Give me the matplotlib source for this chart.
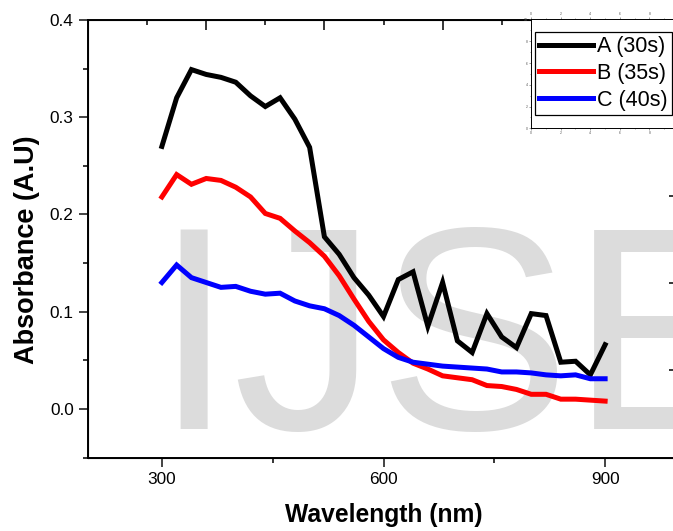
import matplotlib

matplotlib.use("Agg")

import matplotlib.pyplot as plt
from matplotlib.ticker import MultipleLocator

plt.rcParams["font.family"] = ["Liberation Sans", "DejaVu Sans"]

# --- dados ------------------------------------------------------------------
wavelength = [300, 320, 340, 360, 380, 400, 420, 440, 460, 480, 500, 520, 540,
              560, 580, 600, 620, 640, 660, 680, 700, 720, 740, 760, 780, 800,
              820, 840, 860, 880, 900]
abs_a = [0.270, 0.320, 0.349, 0.344, 0.341, 0.336, 0.322, 0.311, 0.320, 0.298,
         0.269, 0.177, 0.159, 0.135, 0.117, 0.095, 0.133, 0.141, 0.085, 0.130,
         0.070, 0.058, 0.098, 0.074, 0.063, 0.098, 0.096, 0.048, 0.049, 0.035,
         0.066]
abs_b = [0.218, 0.241, 0.231, 0.237, 0.235, 0.228, 0.218, 0.201, 0.196, 0.183,
         0.171, 0.157, 0.137, 0.113, 0.090, 0.071, 0.058, 0.047, 0.041, 0.034,
         0.032, 0.030, 0.024, 0.023, 0.020, 0.015, 0.015, 0.010, 0.010, 0.009,
         0.008]
abs_c = [0.130, 0.148, 0.135, 0.130, 0.125, 0.126, 0.121, 0.118, 0.119, 0.111,
         0.106, 0.103, 0.096, 0.086, 0.074, 0.062, 0.053, 0.048, 0.046, 0.044,
         0.043, 0.042, 0.041, 0.038, 0.038, 0.037, 0.035, 0.034, 0.035, 0.031,
         0.031]
labels = ["A (30s)", "B (35s)", "C (40s)"]
colors = ["#000000", "#ff0000", "#0000ff"]

W, H = 673, 531
fig = plt.figure(figsize=(W / 100, H / 100), dpi=100)

# eixo principal (a borda direita fica fora da figura, como no original)
x0, x1, y0, y1 = 88, 679, 20, 457.5
ax = fig.add_axes([x0 / W, 1 - y1 / H, (x1 - x0) / W, (y1 - y0) / H])
ax.patch.set_facecolor("none")

linhas = []
for serie, cor, rot in zip([abs_a, abs_b, abs_c], colors, labels):
    (ln,) = ax.plot(wavelength, serie, color=cor, lw=3.6, label=rot,
                    solid_joinstyle="miter", zorder=2)
    linhas.append(ln)

ax.set_xlim(200, 1000)
ax.set_ylim(-0.05, 0.4)
ax.set_xticks([300, 600, 900])
ax.xaxis.set_minor_locator(MultipleLocator(150))
ax.set_yticks([0.0, 0.1, 0.2, 0.3, 0.4])
ax.yaxis.set_minor_locator(MultipleLocator(0.05))
ax.set_yticklabels(["0.0", "0.1", "0.2", "0.3", "0.4"])
ax.tick_params(which="major", direction="out", length=6.8, width=1.1,
               labelsize=12.4, pad=3.5, color="#111111")
ax.tick_params(which="minor", direction="out", length=3.8, width=1.1)
ax.tick_params(top=False, right=False, which="both")
for s in ax.spines.values():
    s.set_linewidth(1.2)

ax.set_xlabel("Wavelength (nm)", fontsize=17.7, fontweight="bold")
ax.xaxis.set_label_coords(0.5, -0.105)
ax.set_ylabel("Absorbance (A.U)", fontsize=19.5, fontweight="bold")
ax.yaxis.set_label_coords(-0.082, 0.476)

# marca d'água
ax.text(153 / W, 1 - 429 / H, "IJSE", transform=fig.transFigure,
        fontsize=208, color="#dcdcdc", ha="left", va="baseline",
        zorder=0.5, clip_on=False)

# eixo superior (ticks internos, camada do Origin)
ax_top = ax.twiny()
ax_top.set_xlim(ax.get_xlim())
ax_top.set_xticks([360, 520, 680, 840])
ax_top.set_xticks([280, 440, 600, 760, 920], minor=True)
ax_top.tick_params(axis="x", which="major", direction="in", length=7.2,
                   width=1.1, labeltop=False, labelbottom=False)
ax_top.tick_params(axis="x", which="minor", direction="in", length=3.6,
                   width=1.1)
ax_top.patch.set_visible(False)
for s in ax_top.spines.values():
    s.set_linewidth(1.2)

# eixo direito (ticks internos)
ax_right = ax.twinx()
ax_right.set_ylim(ax.get_ylim())
ax_right.set_yticks([0.040, 0.1297, 0.2194, 0.3091, 0.3988])
ax_right.tick_params(axis="y", direction="in", length=7.2, width=1.1,
                     labelright=False, labelleft=False)
ax_right.patch.set_visible(False)

# camada da legenda
lx0, lx1, ly0, ly1 = 531, 679, 19.5, 128.3
ax_leg = fig.add_axes([lx0 / W, 1 - ly1 / H, (lx1 - lx0) / W, (ly1 - ly0) / H])
ax_leg.set_xlim(0, 10)
ax_leg.set_ylim(0, 10)
ax_leg.patch.set_facecolor("white")
ax_leg.xaxis.set_major_locator(MultipleLocator(2))
ax_leg.xaxis.set_minor_locator(MultipleLocator(1))
ax_leg.yaxis.set_major_locator(MultipleLocator(2))
ax_leg.yaxis.set_minor_locator(MultipleLocator(1))
ax_leg.tick_params(which="both", direction="out", labelsize=2.5, pad=0.8,
                   width=0.4, colors="#555555", top=True, labeltop=True)
ax_leg.tick_params(which="major", length=1.5)
ax_leg.tick_params(which="minor", length=0.8)
for s in ax_leg.spines.values():
    s.set_linewidth(0.7)

leg = ax_leg.legend(handles=linhas, labels=labels, loc="upper right",
                    bbox_to_anchor=((671.7 - lx0) / (lx1 - lx0),
                                    (ly1 - 32.3) / (ly1 - ly0)),
                    frameon=True, fancybox=False, shadow=False,
                    fontsize=15.5, handlelength=2.5, handletextpad=0.19,
                    labelspacing=0.27, borderpad=0.18, borderaxespad=0,
                    framealpha=1)
leg.get_frame().set_edgecolor("#000000")
leg.get_frame().set_linewidth(0.9)
for h in leg.legend_handles:
    h.set_linewidth(3.6)

fig.savefig("out.png", dpi=100, facecolor="white")
